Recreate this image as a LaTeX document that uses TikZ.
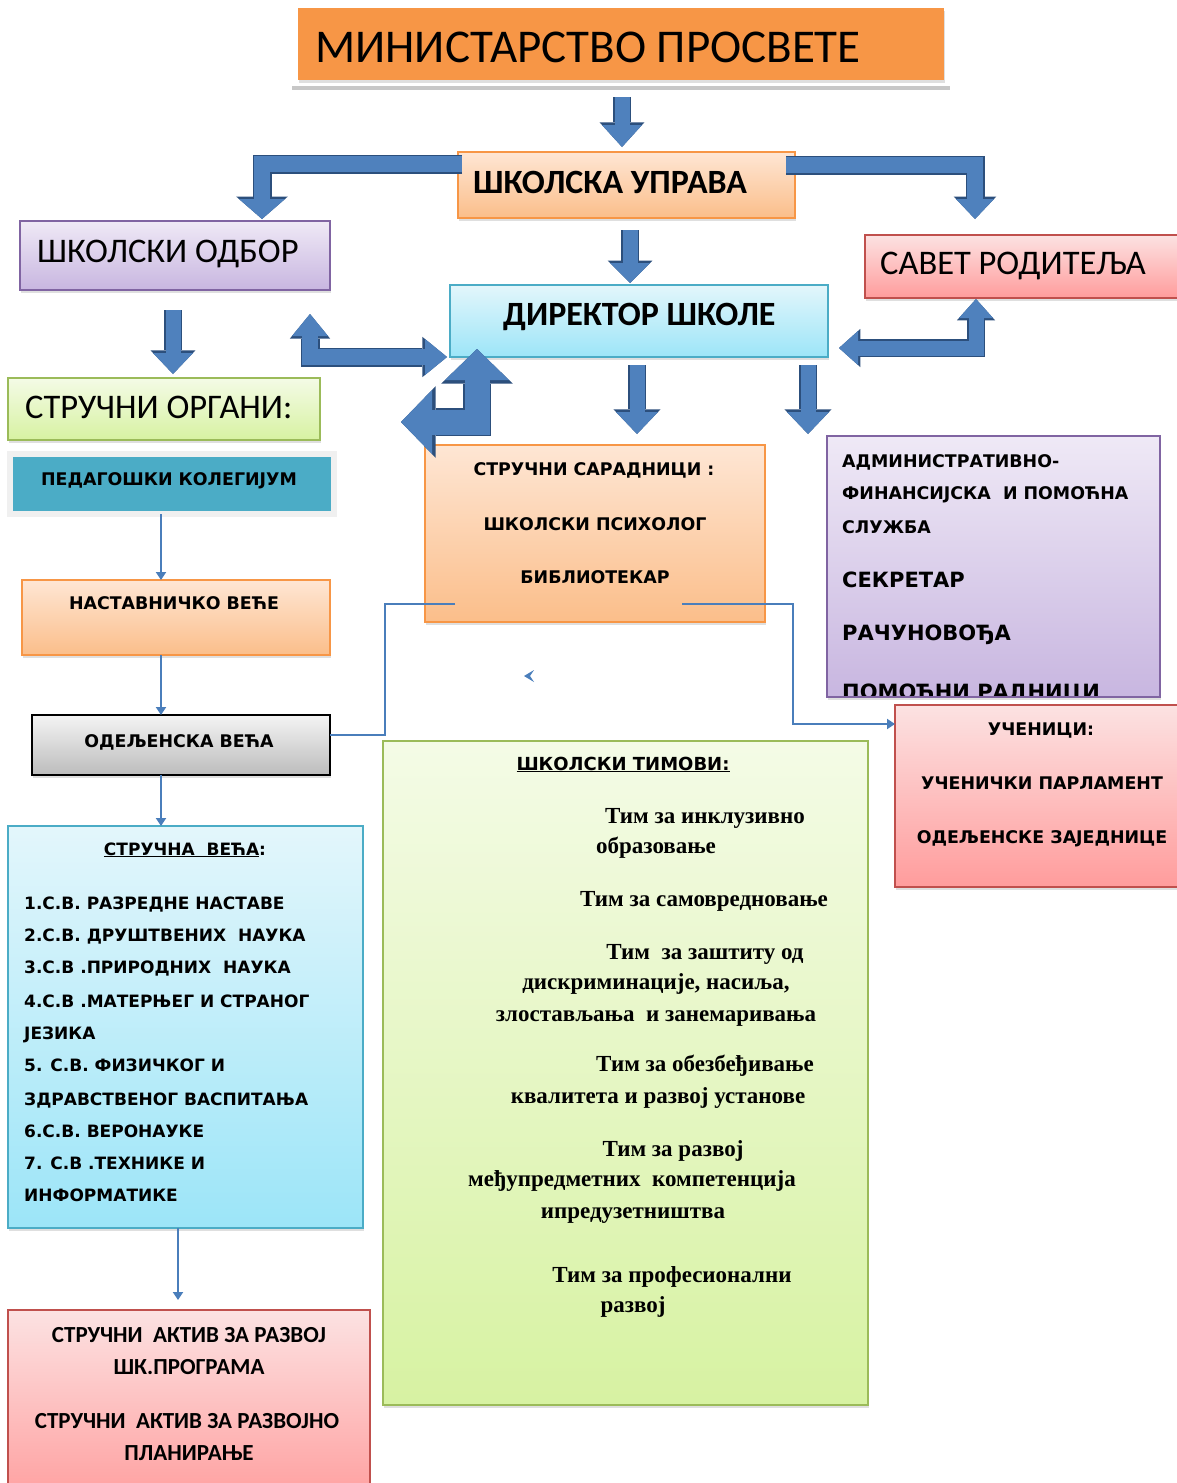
\documentclass[tikz,border=0pt]{standalone}
\usepackage{fontspec}
\setmainfont{Liberation Serif}
\newfontfamily\calfont{Carlito}
\newfontfamily\dvfont{DejaVu Sans}
\usetikzlibrary{arrows.meta}
\usetikzlibrary{shadows}

\definecolor{titleorange}{HTML}{F79646}
\definecolor{orangeedge}{HTML}{F79646}
\definecolor{orangetop}{HTML}{FEE6D4}
\definecolor{orangebot}{HTML}{FBBE8A}
\definecolor{purpleedge}{HTML}{8064A2}
\definecolor{purpletop}{HTML}{EFE9F6}
\definecolor{purplebot}{HTML}{C8B6E0}
\definecolor{rededge}{HTML}{C0504D}
\definecolor{redtop}{HTML}{FCE2E2}
\definecolor{redbot}{HTML}{FF9C9C}
\definecolor{blueedge}{HTML}{4BACC6}
\definecolor{bluetop}{HTML}{E3F6FB}
\definecolor{bluebot}{HTML}{9CE5F8}
\definecolor{greenedge}{HTML}{9BBB59}
\definecolor{greentop}{HTML}{F4FBE6}
\definecolor{greenbot}{HTML}{D7F2A2}
\definecolor{graytop}{HTML}{F4F4F4}
\definecolor{graybot}{HTML}{BCBCBC}
\definecolor{tealfill}{HTML}{4BACC6}
\definecolor{arrowfill}{HTML}{4F81BD}
\definecolor{arrowedge}{HTML}{2C4F7C}
\definecolor{linkblue}{HTML}{4A7EBB}

\newcommand\fnttitle{\calfont\fontsize{47}{50}\selectfont}
\newcommand\fntbig{\calfont\fontsize{34.5}{36}\selectfont}
\newcommand\fntbigb{\calfont\bfseries\fontsize{34}{36}\selectfont}
\newcommand\fntsmall{\dvfont\bfseries\fontsize{17.4}{20}\selectfont}
\newcommand\fnthead{\dvfont\bfseries\fontsize{18}{20}\selectfont}
\newcommand\fntmid{\dvfont\bfseries\fontsize{21}{24}\selectfont}
\newcommand\fntlist{\dvfont\bfseries\fontsize{17}{20}\selectfont}
\newcommand\fntaktiv{\calfont\bfseries\fontsize{23}{26}\selectfont}
\newcommand\fntteam{\bfseries\fontsize{23}{26}\selectfont}

\tikzset{
  blockarrow/.style n args={3}{line width=#1, draw=arrowfill, line join=miter,
    -{Triangle[length=#2, width=#3, line width=0pt]},
    preaction={draw=arrowedge, line width=#1+3pt,
      -{Triangle[length=#2, width=#3, line width=0pt, scale=1.12]}}},
  twoheads/.style n args={3}{line width=#1, draw=arrowfill, line join=miter,
    {Triangle[length=#2, width=#3, line width=0pt]}-{Triangle[length=#2, width=#3, line width=0pt]},
    preaction={draw=arrowedge, line width=#1+3pt,
      {Triangle[length=#2, width=#3, line width=0pt, scale=1.12]}-{Triangle[length=#2, width=#3, line width=0pt, scale=1.12]}}}
}

\begin{document}
\begin{tikzpicture}[x=1pt, y=-1pt]
  \tikzstyle{box} = [anchor=north west, inner sep=0pt, outer sep=0pt, line width=1.3pt,
    drop shadow={shadow xshift=1pt, shadow yshift=-3pt, opacity=0.25}]
  \tikzstyle{orangebox} = [box, draw=orangeedge, top color=orangetop, bottom color=orangebot]
  \tikzstyle{purplebox} = [box, draw=purpleedge, top color=purpletop, bottom color=purplebot]
  \tikzstyle{redbox} = [box, draw=rededge, top color=redtop, bottom color=redbot]
  \tikzstyle{bluebox} = [box, draw=blueedge, top color=bluetop, bottom color=bluebot]
  \tikzstyle{greenbox} = [box, draw=greenedge, top color=greentop, bottom color=greenbot]
  \tikzstyle{graybox} = [box, draw=black, top color=graytop, bottom color=graybot]
  \tikzstyle{lbl} = [inner sep=0pt, anchor=base west]
  \tikzstyle{clbl} = [inner sep=0pt, anchor=base]
  \tikzstyle{link} = [draw=linkblue, line width=2.8pt]
  \tikzstyle{linkarrow} = [link, -{Triangle[length=8pt, width=10pt]}]

  \useasboundingbox (0,0) rectangle (1177,1483);

  % top of the chart
  \node[box, fill=titleorange, minimum width=646pt, minimum height=72pt] (ministarstvo) at (298,8) {};
  \node[lbl, font=\fnttitle] (ministarstvo-t) at (315,62) {МИНИСТАРСТВО ПРОСВЕТЕ};
  \draw[line width=4pt, black!22] (292,88) -- (950,88);

  \node[orangebox, minimum width=337pt, minimum height=66pt] (uprava) at (458,152) {};
  \node[lbl, font=\fntbigb] (uprava-t) at (473,193) {ШКОЛСКА УПРАВА};

  \node[purplebox, minimum width=310pt, minimum height=69pt] (odbor) at (20,221) {};
  \node[lbl, font=\fntbig] (odbor-t) at (37,262) {ШКОЛСКИ ОДБОР};

  \node[redbox, minimum width=330pt, minimum height=63pt] (savet) at (865,235) {};
  \node[lbl, font=\fntbig] (savet-t) at (880,274) {САВЕТ РОДИТЕЉА};

  \node[bluebox, minimum width=378pt, minimum height=72pt] (direktor) at (450,285) {};
  \node[lbl, font=\fntbigb] (direktor-t) at (503,325) {ДИРЕКТОР ШКОЛЕ};

  % left column
  \node[greenbox, minimum width=312pt, minimum height=62pt] (organi) at (8,378) {};
  \node[lbl, font=\fntbig] (organi-t) at (25,418) {СТРУЧНИ ОРГАНИ:};

  \node[box, fill=tealfill, draw=black!6, line width=6pt, minimum width=324pt, minimum height=60pt] (kolegijum) at (10,454) {};
  \node[clbl, font=\fntsmall] (kolegijum-t) at (169,485) {ПЕДАГОШКИ КОЛЕГИЈУМ};

  \node[orangebox, minimum width=308pt, minimum height=75pt] (nastavnicko) at (22,580) {};
  \node[clbl, font=\fntsmall] (nastavnicko-t) at (174,609) {НАСТАВНИЧКО ВЕЋЕ};

  \node[graybox, minimum width=298pt, minimum height=60pt] (odeljenska) at (32,715) {};
  \node[clbl, font=\fntsmall] (odeljenska-t) at (179,747) {ОДЕЉЕНСКА ВЕЋА};

  \node[bluebox, minimum width=355pt, minimum height=402pt] (strucna) at (8,826) {};
  \node[clbl, font=\fntlist] (strucna-t) at (185,855) {\underline{СТРУЧНА\ \ ВЕЋА}:};
  \node[lbl, font=\fntlist] (vece1) at (24,909) {1.С.В. РАЗРЕДНЕ НАСТАВЕ};
  \node[lbl, font=\fntlist] (vece2) at (24,941) {2.С.В. ДРУШТВЕНИХ\ \ НАУКА};
  \node[lbl, font=\fntlist] (vece3) at (24,973) {3.С.В .ПРИРОДНИХ\ \ НАУКА};
  \node[lbl, font=\fntlist] (vece4a) at (24,1007) {4.С.В .МАТЕРЊЕГ И СТРАНОГ};
  \node[lbl, font=\fntlist] (vece4b) at (24,1039) {ЈЕЗИКА};
  \node[lbl, font=\fntlist] (vece5a) at (24,1071) {5. С.В. ФИЗИЧКОГ И};
  \node[lbl, font=\fntlist] (vece5b) at (24,1105) {ЗДРАВСТВЕНОГ ВАСПИТАЊА};
  \node[lbl, font=\fntlist] (vece6) at (24,1137) {6.С.В. ВЕРОНАУКЕ};
  \node[lbl, font=\fntlist] (vece7a) at (24,1169) {7. С.В .ТЕХНИКЕ И};
  \node[lbl, font=\fntlist] (vece7b) at (24,1201) {ИНФОРМАТИКЕ};

  \node[redbox, minimum width=362pt, minimum height=200pt] (aktiv) at (8,1310) {};
  \node[clbl, font=\fntaktiv] (aktiv1a) at (189,1342) {СТРУЧНИ\ \ АКТИВ ЗА РАЗВОЈ};
  \node[clbl, font=\fntaktiv] (aktiv1b) at (189,1374) {ШК.ПРОГРАМА};
  \node[clbl, font=\fntaktiv] (aktiv2a) at (187,1428) {СТРУЧНИ\ \ АКТИВ ЗА РАЗВОЈНО};
  \node[clbl, font=\fntaktiv] (aktiv2b) at (189,1460) {ПЛАНИРАЊЕ};

  % middle column
  \node[orangebox, minimum width=340pt, minimum height=177pt] (saradnici) at (425,445) {};
  \node[clbl, font=\fntsmall] (saradnici1) at (594,475) {СТРУЧНИ САРАДНИЦИ :};
  \node[clbl, font=\fntsmall] (saradnici2) at (595,530) {ШКОЛСКИ ПСИХОЛОГ};
  \node[clbl, font=\fntsmall] (saradnici3) at (595,583) {БИБЛИОТЕКАР};

  \node[greenbox, minimum width=485pt, minimum height=664pt] (timovi) at (383,741) {};
  \node[clbl, font=\fnthead] (timovi-t) at (623,770) {\underline{ШКОЛСКИ ТИМОВИ:}};
  \node[clbl, font=\fntteam] (tim1a) at (705,823) {Тим за инклузивно};
  \node[clbl, font=\fntteam] (tim1b) at (656,853) {образовање};
  \node[clbl, font=\fntteam] (tim2) at (704,906) {Тим за самовредновање};
  \node[clbl, font=\fntteam] (tim3a) at (705,959) {Тим\ \ за заштиту од};
  \node[clbl, font=\fntteam] (tim3b) at (656,989) {дискриминације, насиља,};
  \node[clbl, font=\fntteam] (tim3c) at (656,1021) {злостављања\ \ и занемаривања};
  \node[clbl, font=\fntteam] (tim4a) at (705,1071) {Тим за обезбеђивање};
  \node[clbl, font=\fntteam] (tim4b) at (658,1103) {квалитета и развој установе};
  \node[clbl, font=\fntteam] (tim5a) at (673,1156) {Тим за развој};
  \node[clbl, font=\fntteam] (tim5b) at (632,1186) {међупредметних\ \ компетенција};
  \node[clbl, font=\fntteam] (tim5c) at (633,1218) {ипредузетништва};
  \node[clbl, font=\fntteam] (tim6a) at (672,1282) {Тим за професионални};
  \node[clbl, font=\fntteam] (tim6b) at (633,1312) {развој};

  % right column
  \node[purplebox, minimum width=333pt, minimum height=261pt] (admin) at (827,436) {};
  \node[lbl, font=\fntsmall] (admin1) at (842,467) {АДМИНИСТРАТИВНО-};
  \node[lbl, font=\fntsmall] (admin2) at (842,499) {ФИНАНСИЈСКА\ \ И ПОМОЋНА};
  \node[lbl, font=\fntsmall] (admin3) at (842,533) {СЛУЖБА};
  \node[lbl, font=\fntmid] (admin4) at (842,587) {СЕКРЕТАР};
  \node[lbl, font=\fntmid] (admin5) at (842,640) {РАЧУНОВОЂА};
  \begin{scope}
    \clip (admin.north west) rectangle (admin.south east);
    \node[lbl, font=\fntmid] (admin6) at (842,699) {ПОМОЋНИ РАДНИЦИ};
  \end{scope}
  \draw[draw=purpleedge, line width=1.3pt] (admin.south west) -- (admin.south east);

  \node[redbox, minimum width=300pt, minimum height=182pt] (ucenici) at (895,705) {};
  \node[clbl, font=\fntsmall] (ucenici1) at (1041,735) {УЧЕНИЦИ:};
  \node[clbl, font=\fntsmall] (ucenici2) at (1042,789) {УЧЕНИЧКИ ПАРЛАМЕНТ};
  \node[clbl, font=\fntsmall] (ucenici3) at (1042,843) {ОДЕЉЕНСКЕ ЗАЈЕДНИЦЕ};

  % block arrows
  \coordinate (a1s) at (622,97);   \coordinate (a1e) at (622,147);
  \coordinate (b1s) at (462,164);  \coordinate (b1e) at (262,219);
  \coordinate (b2s) at (786,165);  \coordinate (b2e) at (975,219);
  \coordinate (a2s) at (630,230);  \coordinate (a2e) at (630,283);
  \coordinate (a3s) at (173,310);  \coordinate (a3e) at (173,374);
  \coordinate (l1s) at (310,314);  \coordinate (l1e) at (447,357);
  \coordinate (l2s) at (477,349);  \coordinate (l2e) at (401,422);
  \coordinate (l3s) at (976,299);  \coordinate (l3e) at (839,348);
  \coordinate (a4s) at (637,365);  \coordinate (a4e) at (637,434);
  \coordinate (a5s) at (808,365);  \coordinate (a5e) at (808,434);

  \draw[blockarrow={15pt}{22pt}{40pt}] (a1s) -- (a1e);
  \draw[blockarrow={16pt}{20pt}{46pt}] (b1s) -| (b1e);
  \draw[blockarrow={16pt}{20pt}{38pt}] (b2s) -| (b2e);
  \draw[blockarrow={15pt}{20pt}{40pt}] (a2s) -- (a2e);
  \draw[blockarrow={15pt}{21pt}{40pt}] (a3s) -- (a3e);
  \draw[twoheads={16pt}{22pt}{36pt}] (l1s) |- (l1e);
  \draw[twoheads={25pt}{31pt}{64pt}] (l2s) |- (l2e);
  \draw[twoheads={15pt}{19pt}{34pt}] (l3s) |- (l3e);
  \draw[blockarrow={15pt}{22pt}{42pt}] (a4s) -- (a4e);
  \draw[blockarrow={15pt}{22pt}{42pt}] (a5s) -- (a5e);

  % thin connectors
  \coordinate (colx) at (161,0);
  \coordinate (colx2) at (178,0);
  \draw[linkarrow] (kolegijum.south -| colx) -- (nastavnicko.north -| colx);
  \draw[linkarrow] (nastavnicko.south -| colx) -- (odeljenska.north -| colx);
  \draw[linkarrow] (odeljenska.south -| colx) -- (strucna.north -| colx);
  \draw[linkarrow] (strucna.south -| colx2) -- ([yshift=10pt]aktiv.north -| colx2);

  \coordinate (sarL) at (455,604);
  \coordinate (sarR) at (682,604);
  \coordinate (bendL) at (385,735);
  \coordinate (bendR) at (793,724);
  \draw[link] (sarL) -| (bendL) -- (odeljenska.east |- bendL);
  \draw[linkarrow] (sarR) -| (bendR) -- (ucenici.west |- bendR);
  \fill[linkblue] (524,676) -- (534,670) -- (530,676) -- (534,682) -- cycle;
\end{tikzpicture}
\end{document}
